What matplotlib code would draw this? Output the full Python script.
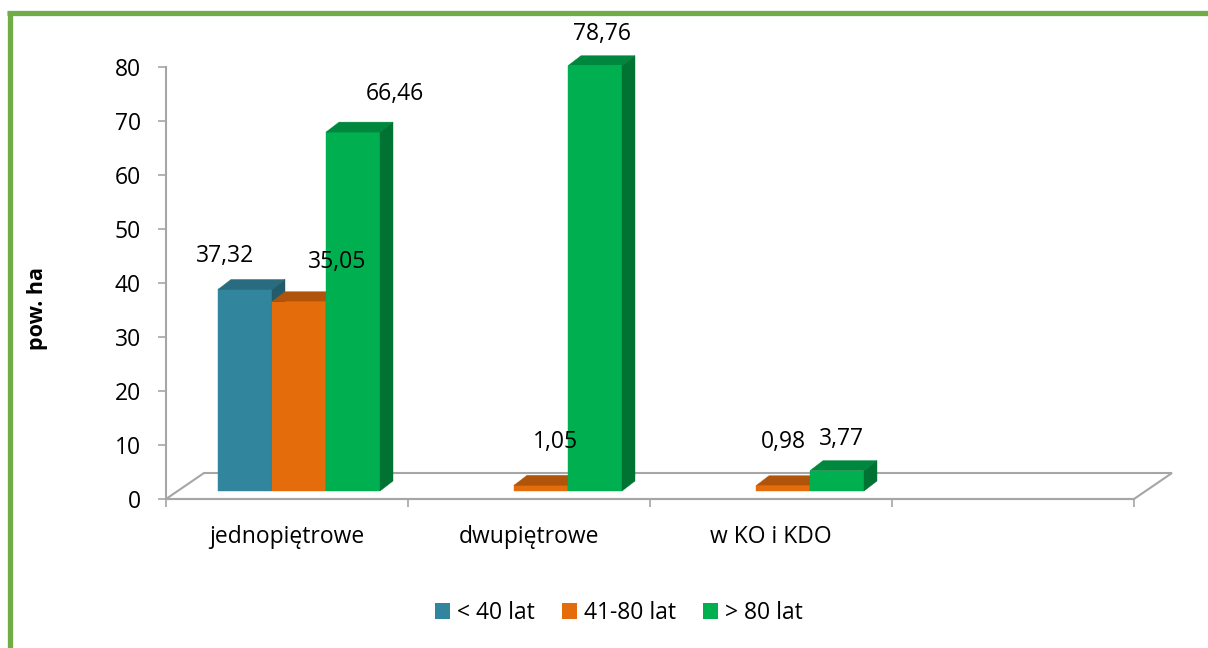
import matplotlib.pyplot as plt
from matplotlib.patches import Polygon, Rectangle
from matplotlib.lines import Line2D
import numpy as np

# data
categories = ["jednopiętrowe", "dwupiętrowe", "w KO i KDO", ""]
series_names = ["< 40 lat", "41-80 lat", "> 80 lat"]
age_lt40 = [37.32, np.nan, np.nan, np.nan]
age_41_80 = [35.05, 1.05, 0.98, np.nan]
age_gt80 = [66.46, 78.76, 3.77, np.nan]
series_values = [age_lt40, age_41_80, age_gt80]

# colours: front, top, side
front_colors = ["#31859C", "#E46C0A", "#00B050"]
top_colors = ["#296C7F", "#AF540A", "#00873E"]
side_colors = ["#225C6C", "#994908", "#007232"]

# label offsets (pixels) relative to bar top, tuned to the reference
label_dx = [[-26, 0, 0, 0], [32, 8, -6, 0], [35, 0, -2, 0]]
label_dy = [[23, 0, 0, 0], [30, 33, 34, 0], [28, 22, 22, 0]]

plt.rcParams["font.family"] = ["Open Sans", "DejaVu Sans"]
FS = 16.5

FIG_W, FIG_H = 1208, 648
fig = plt.figure(figsize=(FIG_W / 100, FIG_H / 100), dpi=100)

# axes area in pixels
ax_left, ax_right, ax_top, ax_bottom = 166, 1134, 67, 499
ax = fig.add_axes([ax_left / FIG_W, 1 - ax_bottom / FIG_H,
                   (ax_right - ax_left) / FIG_W, (ax_bottom - ax_top) / FIG_H])
ax.set_xlim(-0.5, len(categories) - 0.5)
ax.set_ylim(0, 80)

px_x = (ax_right - ax_left) / len(categories)   # pixels per category
px_y = (ax_bottom - ax_top) / 80                # pixels per unit

# 3d geometry (converted to data units)
floor_dx, floor_dy = 38 / px_x, 26 / px_y
base_dx, base_dy = 12 / px_x, 8 / px_y
bar_w = 54 / px_x
bar_dx, bar_dy = 13 / px_x, 10 / px_y
grid_col = "#A6A6A6"

# floor
n = len(categories)
floor = Polygon([(-0.5, 0), (n - 0.5, 0), (n - 0.5 + floor_dx, floor_dy),
                 (-0.5 + floor_dx, floor_dy)], closed=True, facecolor="white",
                edgecolor=grid_col, linewidth=1.5, clip_on=False, zorder=1)
ax.add_patch(floor)

z = 3
group_off = (1 - len(series_names) * bar_w) / 2
for ci in range(n):
    for si in range(len(series_names)):
        v = series_values[si][ci]
        if np.isnan(v):
            continue
        x0 = ci - 0.5 + group_off + base_dx + si * bar_w
        ax.bar(x0, v, bar_w, bottom=base_dy, align="edge",
               color=front_colors[si], edgecolor=front_colors[si],
               linewidth=0.3, clip_on=False, zorder=z)
        top = base_dy + v
        ax.add_patch(Polygon([(x0, top), (x0 + bar_w, top),
                              (x0 + bar_w + bar_dx, top + bar_dy),
                              (x0 + bar_dx, top + bar_dy)],
                             closed=True, facecolor=top_colors[si],
                             edgecolor=top_colors[si], linewidth=0.3,
                             clip_on=False, zorder=z))
        ax.add_patch(Polygon([(x0 + bar_w, base_dy), (x0 + bar_w, top),
                              (x0 + bar_w + bar_dx, top + bar_dy),
                              (x0 + bar_w + bar_dx, base_dy + bar_dy)],
                             closed=True, facecolor=side_colors[si],
                             edgecolor=side_colors[si], linewidth=0.3,
                             clip_on=False, zorder=z))
        z += 1
        lab = f"{v:.2f}".replace(".", ",")
        ax.annotate(lab, (x0 + bar_w / 2 + bar_dx / 2, top + bar_dy),
                    xytext=(label_dx[si][ci], label_dy[si][ci]),
                    textcoords="offset pixels", ha="center", va="center",
                    fontsize=FS, color="black", zorder=50,
                    annotation_clip=False)

# axes styling
for s in ["top", "right"]:
    ax.spines[s].set_visible(False)
for s in ["left", "bottom"]:
    ax.spines[s].set_color(grid_col)
    ax.spines[s].set_linewidth(1.5)
ax.spines["bottom"].set_zorder(2)
ax.set_yticks(np.arange(0, 81, 10))
ax.tick_params(axis="y", length=6, width=1.2, color=grid_col, pad=12,
               labelsize=FS)
ax.set_xticks(np.arange(n))
ax.set_xticklabels(categories)
ax.set_xticks(np.arange(-0.5, n), minor=True)
ax.tick_params(axis="x", which="major", length=0, pad=19, labelsize=FS)
ax.tick_params(axis="x", which="minor", length=6, width=1.2, color=grid_col)
ax.patch.set_alpha(0)

fig.text(38 / FIG_W, 1 - 309 / FIG_H, "pow. ha", rotation=90,
         ha="center", va="center", fontsize=15.5, fontweight="bold")

# legend
handles = [Rectangle((0, 0), 1, 1, facecolor=c) for c in front_colors]
fig.legend(handles, series_names, loc="center",
           bbox_to_anchor=(619 / FIG_W, 1 - 613 / FIG_H), ncol=3,
           frameon=False, fontsize=FS, handlelength=0.65, handleheight=0.65,
           handletextpad=0.3, columnspacing=1.2)

# green frame (top and left edges)
frame_col = "#70AD47"
fig.add_artist(Line2D([7 / FIG_W, 1], [1 - 12.5 / FIG_H, 1 - 12.5 / FIG_H],
                      transform=fig.transFigure, color=frame_col,
                      linewidth=3.8, solid_capstyle="butt"))
fig.add_artist(Line2D([9.5 / FIG_W, 9.5 / FIG_W], [1 - 10.5 / FIG_H, 0],
                      transform=fig.transFigure, color=frame_col,
                      linewidth=3.8, solid_capstyle="butt"))

fig.savefig("out.png", dpi=100)
